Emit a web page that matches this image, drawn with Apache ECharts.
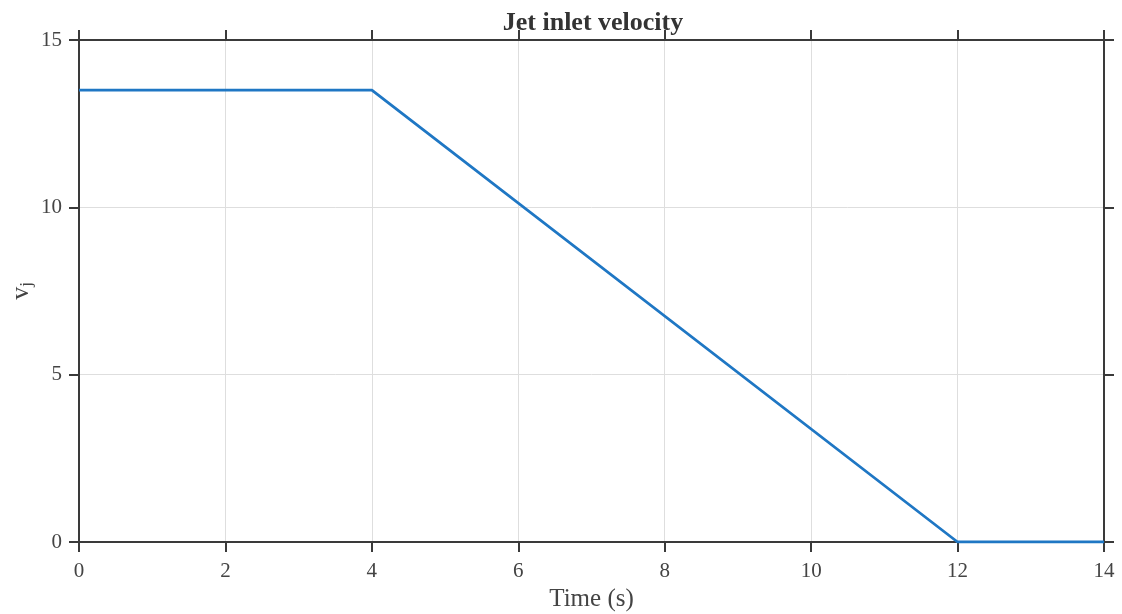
<!DOCTYPE html>
<html><head><meta charset="utf-8">
<script src="https://cdn.jsdelivr.net/npm/echarts@6/dist/echarts.min.js"></script>
<style>html,body{margin:0;padding:0;background:#fff}#c{width:1122px;height:614px}</style>
</head><body><div id="c"></div>
<script>
const timeValues = [0, 4, 12, 14];
const velocityValues = [13.5, 13.5, 0, 0];
const xTicks = [0, 2, 4, 6, 8, 10, 12, 14];
const yTicks = [0, 5, 10, 15];

const serif = '"Liberation Serif", "DejaVu Serif", serif';
const data = timeValues.map((t, i) => [t, velocityValues[i]]);
const lineC = '#3a3a3a';
const chart = echarts.init(document.getElementById('c'));
const baseX = {
  type: 'value', min: xTicks[0], max: xTicks[xTicks.length - 1], interval: 2,
  axisLine: { show: true, onZero: false, lineStyle: { color: lineC, width: 2 } },
  axisTick: { show: true, length: 10, lineStyle: { color: lineC, width: 2 } },
};
const baseY = {
  type: 'value', min: yTicks[0], max: yTicks[yTicks.length - 1], interval: 5,
  axisLine: { show: true, onZero: false, lineStyle: { color: lineC, width: 2 } },
  axisTick: { show: true, length: 10, lineStyle: { color: lineC, width: 2 } },
};
chart.setOption({
  animation: false,
  title: {
    text: 'Jet inlet velocity', left: 588, textAlign: 'center', top: 5,
    textStyle: { fontFamily: serif, fontWeight: 'bold', fontSize: 26, color: '#333' }
  },
  grid: { left: 79, right: 18, top: 40, bottom: 72, outerBoundsMode: 'none', containLabel: false },
  xAxis: [
    Object.assign({}, baseX, {
      position: 'bottom', name: 'Time (s)', nameLocation: 'middle', nameGap: 41,
      nameTextStyle: { fontFamily: serif, fontSize: 25, color: '#444' },
      axisLabel: { margin: 19, fontFamily: serif, fontSize: 21, color: '#444' },
      splitLine: { show: true, lineStyle: { color: '#dedede', width: 1 } }
    }),
    Object.assign({}, baseX, {
      position: 'top', axisLabel: { show: false }, splitLine: { show: false }
    })
  ],
  yAxis: [
    Object.assign({}, baseY, {
      position: 'left', name: '{v|v}{s|j}', nameLocation: 'middle', nameGap: 49,
      nameMoveOverlap: false,
      nameTextStyle: { padding: [0, 0, -5, 0], rich: {
        v: { fontFamily: serif, fontSize: 26, color: '#444' },
        s: { fontFamily: serif, fontSize: 17, color: '#444', verticalAlign: 'bottom', padding: [10, 0, 0, 0] }
      } },
      axisLabel: { margin: 17, fontFamily: serif, fontSize: 21, color: '#444' },
      splitLine: { show: true, lineStyle: { color: '#dedede', width: 1 } }
    }),
    Object.assign({}, baseY, {
      position: 'right', axisLabel: { show: false }, splitLine: { show: false }
    })
  ],
  series: [{
    type: 'line', data: data, xAxisIndex: 0, yAxisIndex: 0,
    showSymbol: false, symbol: 'none',
    lineStyle: { color: '#1f77c4', width: 2.8 }
  }]
});
</script></body></html>
